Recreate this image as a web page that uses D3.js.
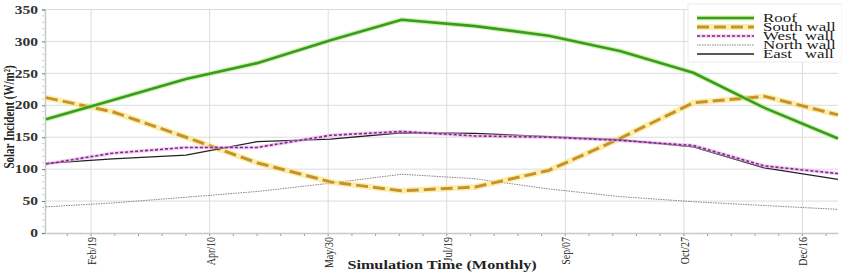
<!DOCTYPE html>
<html lang="en">
<head>
<meta charset="UTF-8">
<title>Solar Incident</title>
<script src="https://cdn.jsdelivr.net/npm/d3@7"></script>
<style>
  body { margin: 0; background: #fff; }
  svg { display: block; }
  svg text { font-family: "Liberation Serif", "Times New Roman", "DejaVu Serif", serif; }
</style>
</head>
<body>
<div class="chart"></div>
<script>
    // month-end sample dates
    const months = ['2001-01-31', '2001-02-28', '2001-03-31', '2001-04-30', '2001-05-31', '2001-06-30',
                    '2001-07-31', '2001-08-31', '2001-09-30', '2001-10-31', '2001-11-30', '2001-12-31']
    const roof  = [178, 208, 241, 266, 302, 334, 324, 309, 285, 251, 196, 148]
    const south = [212, 190, 150, 110, 80, 66, 72, 98, 148, 204, 214, 185]
    const west  = [108, 125, 134, 134, 153, 159, 152, 150, 145, 137, 105, 93]
    const north = [41, 47, 56, 65, 78, 92, 85, 69, 57, 49, 43, 37]
    const east  = [109, 116, 122, 143, 147, 157, 156, 151, 146, 135, 102, 84]
    const seriesNames = ['Roof', 'South wall', 'West  wall', 'North wall', 'East   wall']
    const xTickDates = ['2001-02-19', '2001-04-10', '2001-05-30', '2001-07-19', '2001-09-07', '2001-10-27', '2001-12-16']
    const yTicks = [0, 50, 100, 150, 200, 250, 300, 350]

    const width = 842
    const height = 272
    const sx = 1.35   // the picture is stretched sideways, text too
    const serif = '"Liberation Serif", "Times New Roman", serif'
    const parse = d3.timeParse('%Y-%m-%d')
    const fmt = d3.timeFormat('%b/%d')

    const x = d3.scaleTime()
        .domain([parse(months[0]), parse(months[months.length - 1])])
        .range([46, 838])
    const y = d3.scaleLinear().domain([0, 350]).range([233, 9.5])

    const svg = d3.select('.chart').append('svg')
        .attr('width', width)
        .attr('height', height)
        .attr('font-family', serif)

    const majors = xTickDates.map(parse)
    const minors = d3.range(-1, 32)
        .map(i => d3.timeDay.offset(majors[0], i * 10))
        .filter(d => d >= x.domain()[0] && d <= x.domain()[1])

    // grid
    svg.append('g').selectAll('line').data(yTicks.slice(1)).join('line')
        .attr('x1', 45).attr('x2', 838)
        .attr('y1', d => y(d)).attr('y2', d => y(d))
        .attr('stroke', '#dcdcdc').attr('stroke-width', 1)
    svg.append('g').selectAll('line').data(majors).join('line')
        .attr('x1', d => x(d)).attr('x2', d => x(d))
        .attr('y1', y(350)).attr('y2', 236)
        .attr('stroke', '#dcdcdc').attr('stroke-width', 1)

    // x axis
    const xAxis = svg.append('g')
        .attr('transform', `translate(0, ${y(0)})`)
        .call(d3.axisBottom(x).tickValues(majors).tickFormat(fmt).tickSize(0))
        .attr('font-family', serif)
    xAxis.select('.domain').attr('stroke', '#c8c8c8').attr('stroke-width', 1.5)
    xAxis.selectAll('text')
        .attr('text-anchor', 'end')
        .attr('x', 0).attr('y', 0).attr('dy', '0.33em')
        .attr('transform', `translate(0, 4) scale(${sx}, 1) rotate(-90)`)
        .attr('font-size', 10)
        .attr('fill', '#222')
    svg.append('g').selectAll('line').data(minors).join('line')
        .attr('x1', d => x(d)).attr('x2', d => x(d))
        .attr('y1', y(0) + 1).attr('y2', y(0) + 3)
        .attr('stroke', '#888').attr('stroke-width', 0.8)

    // y axis
    const yAxis = svg.append('g')
        .attr('transform', 'translate(45, 0)')
        .call(d3.axisLeft(y).tickValues(yTicks).tickSize(3).tickPadding(4))
        .attr('font-family', serif)
    yAxis.select('.domain').attr('stroke', '#c8c8c8').attr('stroke-width', 1.5)
    yAxis.selectAll('.tick line').attr('stroke', '#777')
    yAxis.selectAll('text')
        .attr('font-size', 11.5)
        .attr('font-weight', 'bold')
        .attr('fill', '#333')
        .attr('transform', function () {
            const tx = +d3.select(this).attr('x')
            return `translate(${tx}, 0) scale(${sx}, 1)`
        })
        .attr('x', 0)
    svg.append('g').selectAll('line').data(d3.range(10, 350, 10).filter(v => v % 50))
        .join('line')
        .attr('x1', 42.5).attr('x2', 44)
        .attr('y1', d => y(d)).attr('y2', d => y(d))
        .attr('stroke', '#999').attr('stroke-width', 0.7)

    // axis titles
    svg.append('text')
        .attr('transform', `translate(${(46 + 838) / 2}, 268.5) scale(${sx}, 1)`)
        .attr('text-anchor', 'middle')
        .attr('font-size', 12)
        .attr('font-weight', 'bold')
        .attr('fill', '#222')
        .text('Simulation Time (Monthly)')
    svg.append('text')
        .attr('transform', `translate(14, 117) scale(${sx}, 1) rotate(-90)`)
        .attr('text-anchor', 'middle')
        .attr('font-size', 11)
        .attr('font-weight', 'bold')
        .attr('fill', '#222')
        .text('Solar Incident (W/m²)')

    // series styles
    const styles = [
        { color: '#3c9a1e', width: 2.6, dash: null, glow: '#a6ee7a', glowWidth: 5 },
        { color: '#c8922a', width: 3, dash: '12,5', glow: '#f8e27a', glowWidth: 6 },
        { color: '#74307f', width: 1.6, dash: '3,2', glow: '#f2a6f2', glowWidth: 3.5 },
        { color: '#777', width: 0.9, dash: '1.5,1', glow: null },
        { color: '#222', width: 1.3, dash: null, glow: null }
    ]
    const seriesValues = [roof, south, west, north, east]
    const dates = months.map(parse)
    const line = d3.line().x((d, i) => x(dates[i])).y(d => y(d))

    const drawOrder = [3, 1, 4, 2, 0]
    drawOrder.forEach(k => {
        const s = styles[k]
        if (s.glow) {
            svg.append('path').datum(seriesValues[k])
                .attr('d', line)
                .attr('fill', 'none')
                .attr('stroke', s.glow)
                .attr('stroke-opacity', 0.6)
                .attr('stroke-width', s.glowWidth)
                .attr('stroke-linejoin', 'round')
        }
        svg.append('path').datum(seriesValues[k])
            .attr('d', line)
            .attr('fill', 'none')
            .attr('stroke', s.color)
            .attr('stroke-width', s.width)
            .attr('stroke-dasharray', s.dash)
            .attr('stroke-linejoin', 'round')
    })

    // legend
    const legend = svg.append('g')
    legend.append('rect')
        .attr('x', 688).attr('y', 4).attr('width', 154).attr('height', 58)
        .attr('fill', '#fff').attr('stroke', '#ececec')
    const rows = legend.selectAll('g.row').data(seriesNames).join('g')
        .attr('class', 'row')
        .attr('transform', (d, i) => `translate(0, ${18 + i * 9})`)
    rows.each(function (d, i) {
        const s = styles[i]
        const g = d3.select(this)
        if (s.glow) {
            g.append('line').attr('x1', 697).attr('x2', 754)
                .attr('stroke', s.glow).attr('stroke-opacity', 0.6).attr('stroke-width', s.glowWidth)
        }
        g.append('line').attr('x1', 697).attr('x2', 754)
            .attr('stroke', s.color).attr('stroke-width', s.width)
            .attr('stroke-dasharray', s.dash)
    })
    rows.append('text')
        .attr('transform', 'translate(763, 3.5) scale(1.47, 1)')
        .attr('font-size', 11.5)
        .attr('fill', '#1a1a1a')
        .style('white-space', 'pre')
        .text(d => d)
</script>
</body>
</html>
